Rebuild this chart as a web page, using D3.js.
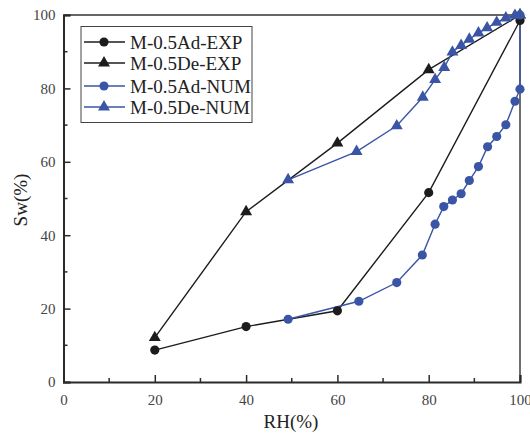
<!DOCTYPE html>
<html>
<head>
<meta charset="utf-8">
<script src="https://cdn.jsdelivr.net/npm/d3@7"></script>
<style>
  body { margin: 0; background: #fff; }
</style>
</head>
<body>
<div id="chart"></div>
<script>
// Values
const adExpRH = [20, 40, 60, 80, 100];
const adExpSw = [8.7, 15.1, 19.4, 51.6, 98.5];
const deExpRH = [20, 40, 60, 80, 100];
const deExpSw = [12.1, 46.4, 65.1, 85.1, 100];
const adNumRH = [49.2, 64.7, 73, 78.6, 81.4, 83.3, 85.2, 87.1, 88.9, 90.9, 92.9, 94.9, 96.9, 98.9, 100, 100];
const adNumSw = [17.1, 22, 27.1, 34.6, 43, 47.8, 49.6, 51.3, 54.9, 58.7, 64.1, 66.9, 70.1, 76.5, 79.8, 100];
const deNumRH = [49.2, 64.2, 73, 78.7, 81.4, 83.4, 85.2, 87.1, 88.9, 90.9, 92.8, 94.9, 96.9, 98.9, 100];
const deNumSw = [55.1, 62.8, 69.8, 77.6, 82.4, 85.7, 89.9, 91.7, 93.4, 95.1, 96.5, 98, 99.2, 99.9, 100];
const seriesNames = ['M-0.5Ad-EXP', 'M-0.5De-EXP', 'M-0.5Ad-NUM', 'M-0.5De-NUM'];
const xTicks = [0, 20, 40, 60, 80, 100];
const yTicks = [0, 20, 40, 60, 80, 100];

const W = 530;
const H = 438;
const padLeft = 63.5;
const padRight = 520;
const padTop = 15;
const padBottom = 382;
const black = '#1c1c1c';
const blue = '#3a55a6';
const FONT = 'Liberation Serif';

const svg = d3.select('#chart').append('svg')
  .attr('width', W)
  .attr('height', H)
  .attr('font-family', FONT);

const x = d3.scaleLinear().domain([0, 100]).range([padLeft, padRight]);
const y = d3.scaleLinear().domain([0, 100]).range([padBottom, padTop]);

const zip = (xs, ys) => xs.map((v, i) => [v, ys[i]]);
const series = [
  { name: seriesNames[0], pts: zip(adExpRH, adExpSw), color: black, shape: d3.symbolCircle },
  { name: seriesNames[1], pts: zip(deExpRH, deExpSw), color: black, shape: d3.symbolTriangle },
  { name: seriesNames[2], pts: zip(adNumRH, adNumSw), color: blue, shape: d3.symbolCircle },
  { name: seriesNames[3], pts: zip(deNumRH, deNumSw), color: blue, shape: d3.symbolTriangle },
];

// frame: top black, right gray
svg.append('line')
  .attr('x1', padLeft).attr('x2', padRight)
  .attr('y1', padTop).attr('y2', padTop)
  .attr('stroke', '#333').attr('stroke-width', 1.5);
svg.append('line')
  .attr('x1', padRight).attr('x2', padRight)
  .attr('y1', padTop).attr('y2', padBottom)
  .attr('stroke', '#6e6e6e').attr('stroke-width', 2);

// axes with inward ticks
const xAxis = d3.axisBottom(x).tickValues(xTicks).tickSize(-7).tickPadding(12);
const yAxis = d3.axisLeft(y).tickValues(yTicks).tickSize(-7).tickPadding(8);

const gx = svg.append('g')
  .attr('transform', `translate(0,${padBottom})`)
  .call(xAxis);
const gy = svg.append('g')
  .attr('transform', `translate(${padLeft},0)`)
  .call(yAxis);

[gx, gy].forEach((g) => {
  g.attr('font-family', FONT).attr('font-size', 15);
  g.select('.domain').attr('stroke', '#2a2a2a').attr('stroke-width', 2);
  g.selectAll('.tick line').attr('stroke', '#2a2a2a').attr('stroke-width', 1.5);
  g.selectAll('.tick text').attr('fill', '#444').attr('font-family', FONT);
});

// minor ticks
const minor = [10, 30, 50, 70, 90];
svg.append('g').selectAll('line').data(minor).join('line')
  .attr('x1', (d) => x(d)).attr('x2', (d) => x(d))
  .attr('y1', padBottom).attr('y2', padBottom - 4)
  .attr('stroke', '#2a2a2a').attr('stroke-width', 1.5);
svg.append('g').selectAll('line').data(minor).join('line')
  .attr('x1', padLeft).attr('x2', padLeft + 4)
  .attr('y1', (d) => y(d)).attr('y2', (d) => y(d))
  .attr('stroke', '#2a2a2a').attr('stroke-width', 1.5);

// axis titles
svg.append('text')
  .attr('x', 291)
  .attr('y', 428)
  .attr('text-anchor', 'middle')
  .attr('fill', '#222')
  .attr('font-family', FONT)
  .attr('font-size', 19)
  .text('RH(%)');
svg.append('text')
  .attr('transform', `translate(27,200) rotate(-90)`)
  .attr('text-anchor', 'middle')
  .attr('fill', '#222')
  .attr('font-family', FONT)
  .attr('font-size', 19)
  .text('Sw(%)');

// lines
const line = d3.line().x((d) => x(d[0])).y((d) => y(d[1]));
series.forEach((s) => {
  svg.append('path')
    .datum(s.pts)
    .attr('fill', 'none')
    .attr('stroke', s.color)
    .attr('stroke-width', 1.4)
    .attr('d', line);
});

// markers
series.forEach((s) => {
  const sym = d3.symbol().type(s.shape).size(s.shape === d3.symbolCircle ? 66 : 62);
  svg.append('g').selectAll('path').data(s.pts).join('path')
    .attr('transform', (d) => `translate(${x(d[0])},${y(d[1])})`)
    .attr('d', sym)
    .attr('fill', s.color);
});

// legend
const legend = svg.append('g');
legend.append('rect')
  .attr('x', 81).attr('y', 26.5)
  .attr('width', 171).attr('height', 96)
  .attr('fill', '#fff')
  .attr('stroke', '#444')
  .attr('stroke-width', 1);
const rowY = [42, 63, 86, 107];
series.forEach((s, i) => {
  const row = legend.append('g').attr('transform', `translate(0,${rowY[i]})`);
  row.append('line')
    .attr('x1', 84).attr('x2', 125)
    .attr('stroke', s.color).attr('stroke-width', 1.4);
  row.append('path')
    .attr('transform', 'translate(104,0)')
    .attr('d', d3.symbol().type(s.shape).size(s.shape === d3.symbolCircle ? 66 : 62))
    .attr('fill', s.color);
  row.append('text')
    .attr('x', 130)
    .attr('y', 6.5)
    .attr('fill', '#222')
    .attr('font-family', FONT)
    .attr('font-size', 19)
    .text(s.name);
});
</script>
</body>
</html>
